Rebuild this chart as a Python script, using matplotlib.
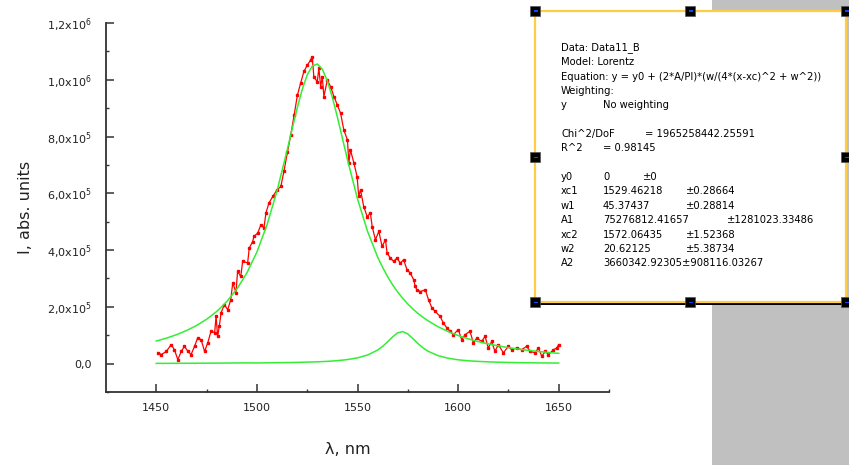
import matplotlib as mpl
mpl.use('Agg')
import matplotlib.pyplot as plt
from matplotlib.patches import Rectangle
from matplotlib.ticker import MultipleLocator, FixedLocator
import numpy as np

plt.rcParams['font.family'] = ['DejaVu Sans']

# measured spectrum (wavelength nm, intensity in units of 1e3)
data_x = [1450.8, 1452.5, 1455.0, 1457.4, 1459.0, 1460.7, 1462.4, 1464.0, 1465.7,
          1467.3, 1469.0, 1470.6, 1472.3, 1474.0, 1475.6, 1477.2, 1479.0, 1479.7,
          1480.5, 1481.3, 1482.2, 1483.8, 1485.5, 1487.0, 1488.0, 1489.6, 1490.4,
          1492.0, 1492.9, 1495.4, 1496.2, 1497.9, 1498.5, 1500.4, 1502.0, 1503.5,
          1504.5, 1506.0, 1508.0, 1510.0, 1511.9, 1513.5, 1515.2, 1516.8, 1518.5,
          1520.1, 1521.8, 1523.4, 1525.1, 1526.7, 1527.5, 1528.3, 1530.0, 1530.8,
          1531.7, 1532.5, 1533.3, 1535.0, 1536.6, 1538.3, 1540.0, 1541.6, 1543.2,
          1545.0, 1545.7, 1546.5, 1548.2, 1549.8, 1550.6, 1551.5, 1553.1, 1554.8,
          1556.4, 1557.3, 1558.9, 1560.6, 1562.2, 1563.9, 1564.7, 1566.3, 1568.0,
          1569.6, 1571.3, 1572.9, 1574.6, 1576.2, 1577.9, 1578.7, 1579.5, 1581.2,
          1583.7, 1585.3, 1587.0, 1588.6, 1591.1, 1592.7, 1594.4, 1596.0, 1597.7,
          1600.1, 1601.8, 1603.5, 1605.9, 1607.6, 1609.3, 1611.7, 1613.4, 1615.0,
          1616.7, 1618.3, 1620.0, 1622.5, 1625.0, 1626.6, 1629.1, 1631.6, 1634.1,
          1635.8, 1638.3, 1639.9, 1641.6, 1643.3, 1644.9, 1647.4, 1649.0, 1650.0]
data_y = [39, 32, 43, 67, 49, 14, 43, 61, 43,
          32, 61, 91, 84, 43, 74, 114, 109, 166,
          96, 131, 179, 208, 190, 225, 285, 250, 325,
          307, 360, 355, 407, 430, 448, 460, 489, 478,
          531, 566, 590, 612, 624, 680, 745, 805, 875,
          945, 990, 1030, 1052, 1070, 1081, 1011, 993, 1040,
          976, 1011, 941, 999, 976, 941, 911, 882, 823,
          788, 707, 753, 707, 659, 589, 612, 553, 518,
          530, 483, 436, 466, 413, 436, 390, 372, 360,
          372, 354, 366, 331, 319, 296, 272, 260, 254,
          260, 225, 196, 184, 166, 143, 126, 114, 102,
          120, 84, 102, 114, 73, 90, 78, 96, 55,
          78, 43, 67, 38, 61, 49, 55, 49, 61,
          43, 38, 55, 26, 43, 32, 49, 55, 67]

# fitted Lorentz peaks (intensity in units of 1e3)
fit_x = [1450, 1455, 1460, 1465, 1470, 1475, 1480, 1485, 1490, 1495, 1500, 1505,
         1510, 1515, 1517.5, 1520, 1522.5, 1525, 1527.5, 1530, 1532.5, 1535, 1537.5,
         1540, 1542.5, 1545, 1550, 1555, 1560, 1562.5, 1565, 1567.5, 1570, 1572.5,
         1575, 1577.5, 1580, 1582.5, 1585, 1590, 1595, 1600, 1605, 1610, 1615,
         1620, 1625, 1630, 1635, 1640, 1645, 1650]
peak1_y = [79.6, 89.7, 101.8, 116.4, 134.2, 156.2, 183.6, 218.2, 262.4, 319.3, 393.2, 488.4,
           608.5, 751.1, 826.4, 899.6, 965.2, 1017.0, 1048.3, 1055.5, 1037.4, 996.5, 938.4,
           868.7, 793.8, 718.8, 580.4, 465.8, 375.5, 339.0, 305.8, 277.0, 251.9, 230.0,
           210.0, 192.6, 177.1, 163.4, 151.0, 130.1, 113.0, 99.0, 87.4, 77.6, 69.4,
           62.4, 56.4, 51.2, 46.6, 42.7, 39.2, 36.1]
peak2_y = [0.8, 0.9, 1.1, 1.2, 1.4, 1.6, 1.8, 2.0, 2.3, 2.6, 2.3, 2.8,
           3.3, 3.8, 4.0, 4.3, 4.8, 5.3, 5.8, 6.4, 7.1, 8.0, 9.1,
           10.6, 12.3, 14.3, 20.3, 30.2, 47.7, 60.8, 77.0, 94.5, 108.7, 112.8,
           104.5, 88.4, 71.0, 55.8, 43.9, 28.1, 19.0, 13.5, 10.0, 7.8, 6.2,
           5.0, 4.1, 3.5, 3.0, 2.5, 2.2, 1.9]

y_ticks = [0, 2e5, 4e5, 6e5, 8e5, 1.0e6, 1.2e6]
y_labels = ['0,0', r'2,0x10$^5$', r'4,0x10$^5$', r'6,0x10$^5$', r'8,0x10$^5$',
            r'1,0x10$^6$', r'1,2x10$^6$']

fit_lines = [
    'Data: Data11_B',
    'Model: Lorentz',
    'Equation: y = y0 + (2*A/PI)*(w/(4*(x-xc)^2 + w^2))',
    'Weighting:',
]
fit_params = [('y0', '0', '\u00b10'),
              ('xc1', '1529.46218', '\u00b10.28664'),
              ('w1', '45.37437', '\u00b10.28814'),
              ('A1', '75276812.41657', '\u00b11281023.33486'),
              ('xc2', '1572.06435', '\u00b11.52368'),
              ('w2', '20.62125', '\u00b15.38734'),
              ('A2', '3660342.92305', '\u00b1908116.03267')]

W, H = 849, 465
fig = plt.figure(figsize=(W / 100, H / 100), dpi=100)


def fx(px):
    return px / W


def fy(py):
    return 1 - py / H


ax = fig.add_axes([fx(106), fy(392), fx(609) - fx(106), fy(23) - fy(392)])
ax.plot(data_x, np.array(data_y) * 1e3, color='#ff0000', lw=0.9,
        marker='s', ms=1.8, mec='#ff0000', zorder=2)
ax.plot(fit_x, np.array(peak1_y) * 1e3, color='#33ee33', lw=1.1, zorder=3)
ax.plot(fit_x, np.array(peak2_y) * 1e3, color='#33ee33', lw=1.1, zorder=3)

ax.set_xlim(1425, 1675)
ax.set_ylim(-1e5, 1.2e6)
ax.xaxis.set_major_locator(FixedLocator([1450, 1500, 1550, 1600, 1650]))
ax.xaxis.set_minor_locator(FixedLocator([1475, 1525, 1575, 1625, 1675]))
ax.yaxis.set_major_locator(FixedLocator(y_ticks))
ax.yaxis.set_minor_locator(MultipleLocator(1e5))
ax.set_yticklabels(y_labels)
ax.set_xticklabels(['1450', '1500', '1550', '1600', '1650'])
for s in ['top', 'right']:
    ax.spines[s].set_visible(False)
for s in ['left', 'bottom']:
    ax.spines[s].set_color('#333333')
    ax.spines[s].set_linewidth(1.3)
ax.tick_params(which='major', direction='in', length=5.5, width=1.1,
               color='#333333', labelsize=8, pad=8, labelcolor='#222222')
ax.tick_params(which='minor', direction='in', length=2.5, width=1.0,
               color='#333333')
ax.tick_params(axis='y', pad=10)
ax.set_ylabel('I, abs. units', fontsize=11.5, color='#222222')
ax.yaxis.set_label_coords(-0.145, 0.5)
ax.set_xlabel('\u03bb, nm', fontsize=11.5, color='#222222')
ax.xaxis.set_label_coords(0.48, -0.135)

# grey panel at the right edge
fig.patches.append(Rectangle((fx(712), 0), 1 - fx(712), 1, transform=fig.transFigure,
                             facecolor='#c0c0c0', edgecolor='none', zorder=0))
# fit result box
fig.patches.append(Rectangle((fx(535), fy(305)), fx(846) - fx(535), fy(302) - fy(305),
                             transform=fig.transFigure, facecolor='black',
                             edgecolor='none', zorder=1))
fig.patches.append(Rectangle((fx(535), fy(302)), fx(846) - fx(535), fy(11) - fy(302),
                             transform=fig.transFigure, facecolor='white',
                             edgecolor='#ffcc44', lw=1.6, zorder=2))
for hx in [535, 690, 846]:
    for hy in [11, 157, 302]:
        if hx == 690 and hy == 157:
            continue
        fig.patches.append(Rectangle((fx(hx - 5), fy(hy + 5)), 10 / W, 10 / H,
                                     transform=fig.transFigure, facecolor='black',
                                     edgecolor='#555555', lw=0.5, zorder=3))
        fig.patches.append(Rectangle((fx(hx - 1), fy(hy + 1)), 4 / W, 1.5 / H,
                                     transform=fig.transFigure, facecolor='#1144ff',
                                     edgecolor='none', zorder=4))

fs = 7.2
for i, line in enumerate(fit_lines):
    fig.text(fx(561), fy(48 + i * 14.4), line, fontsize=fs, va='center', zorder=5)
fig.text(fx(561), fy(105), 'y', fontsize=fs, va='center', zorder=5)
fig.text(fx(603), fy(105), 'No weighting', fontsize=fs, va='center', zorder=5)
fig.text(fx(561), fy(134), 'Chi^2/DoF', fontsize=fs, va='center', zorder=5)
fig.text(fx(645), fy(134), '= 1965258442.25591', fontsize=fs, va='center', zorder=5)
fig.text(fx(561), fy(148), 'R^2', fontsize=fs, va='center', zorder=5)
fig.text(fx(603), fy(148), '= 0.98145', fontsize=fs, va='center', zorder=5)
for i, (name, val, err) in enumerate(fit_params):
    yy = fy(177 + i * 14.4)
    fig.text(fx(561), yy, name, fontsize=fs, va='center', zorder=5)
    if name == 'A2':
        fig.text(fx(603), yy, val + err, fontsize=fs, va='center', zorder=5)
        continue
    fig.text(fx(603), yy, val, fontsize=fs, va='center', zorder=5)
    ex = {'y0': 643, 'A1': 727}.get(name, 686)
    fig.text(fx(ex), yy, err, fontsize=fs, va='center', zorder=5)

plt.savefig('out.png', dpi=100)
